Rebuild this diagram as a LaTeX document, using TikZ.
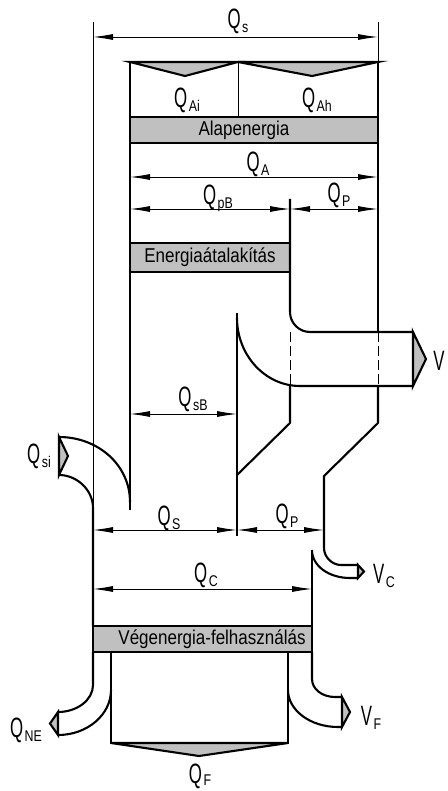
\documentclass[tikz,border=0pt]{standalone}
\usepackage{fontspec}
\setmainfont{Liberation Sans}[FakeStretch=0.85]
\newfontfamily\bigfam{Liberation Sans}[FakeStretch=0.6]
\newfontfamily\subfam{Liberation Sans}[FakeStretch=0.8]
\usetikzlibrary{arrows.meta}
\definecolor{boxgray}{RGB}{192,192,192}
\newcommand\bigf{\bigfam\fontsize{28}{28}\selectfont}
\newcommand\subf{\subfam\fontsize{15.5}{15.5}\selectfont}
\newcommand\qsub[2]{{\bigf #1}\kern1.5pt\raisebox{-4pt}{\subf #2}}
\begin{document}
\begin{tikzpicture}[x=1pt,y=-1pt,
  thickline/.style={line width=2.1pt, line join=miter},
  thinline/.style={line width=0.9pt},
  dashline/.style={line width=0.9pt, dash pattern=on 10pt off 4pt},
  dim/.style={line width=0.9pt, {Latex[length=20pt,width=6pt]}-{Latex[length=20pt,width=6pt]}},
  lbl/.style={inner sep=0pt, anchor=base},
  band/.style={fill=boxgray, draw=black, line width=2.1pt},
  bandtext/.style={inner sep=0pt, font=\fontsize{20}{20}\selectfont}
]
\useasboundingbox (0,0) rectangle (447,791);

% ---------- top: Q_s ----------
\draw[thinline] (93,22) -- (93,508);
\draw[thinline] (378,22) -- (378,62);
\draw[dim] (93,37) -- (378,37);
\node[lbl] (qs) at (238,29) {\qsub{Q}{s}};

% ---------- top box with Q_Ai, Q_Ah ----------
\draw[band] (130,62) -- (185,76) -- (238,62) -- cycle;
\draw[band] (238,62) -- (312,76) -- (378,62) -- cycle;
\draw[thickline] (130,62) -- (130,117);
\draw[thickline] (378,62) -- (378,117);
\draw[thinline] (238,62) -- (238,117);
\node[lbl] (qai) at (187,108) {\qsub{Q}{Ai}};
\node[lbl] (qah) at (317,108) {\qsub{Q}{Ah}};

% ---------- Alapenergia ----------
\draw[band] (130,117) rectangle (378,143);
\node[bandtext] (alap) at (244,130) {Alapenergia};

% ---------- Q_A, Q_pB, Q_P ----------
\draw[dim] (130,177) -- (378,177);
\node[lbl] (qa) at (258,172) {\qsub{Q}{A}};
\draw[dim] (130,209) -- (290,209);
\draw[dim] (290,209) -- (378,209);
\node[lbl] (qpb) at (218,205) {\qsub{Q}{pB}};
\node[lbl] (qp1) at (339,203) {\qsub{Q}{P}};

% ---------- Energiaatalakitas ----------
\draw[band] (130,243) rectangle (290,272);
\node[bandtext] (energ) at (210,257) {Energiaátalakítás};

% main verticals
\draw[thickline] (130,143) -- (130,510);
\draw[thickline] (378,143) -- (378,332);
\draw[dashline] (378,332) -- (378,386);
\draw[dashline] (290,332) -- (290,386);

% upper channel to V
\draw[thickline] (290,199) -- (290,312) .. controls (290,323) and (299,332) .. (310,332) -- (413,332);
% turbine / lower channel to V
\draw[thickline] (237,313) -- (237,536);
\draw[thickline] (237,318) .. controls (237,355) and (265,386) .. (300,386) -- (413,386);
\draw[band] (413,332) -- (426,359) -- (413,386) -- cycle;
\node[lbl] (v) at (439,370) {{\bigf V}};

% below the V channel
\draw[thickline] (290,386) -- (290,423) -- (237,475);
\draw[thickline] (378,386) -- (378,423) -- (324,476) -- (324,548)
  .. controls (324,557) and (332,565) .. (341,565) -- (358,565);
\draw[thickline] (312,550) .. controls (312,566) and (329,578) .. (350,578) -- (358,578);
\draw[band] (358,565) -- (364,571.5) -- (358,578) -- cycle;
\node[lbl] (vc) at (384,583) {\qsub{V}{C}};

% Q_sB
\draw[dim] (130,414) -- (237,414);
\node[lbl] (qsb) at (193,406) {\qsub{Q}{sB}};

% Q_si inflow
\draw[thickline] (59,437) .. controls (98,437) and (130,465) .. (130,502);
\draw[thickline] (59,475) .. controls (77,475) and (93,490) .. (93,508) -- (93,626);
\draw[band] (59,437) -- (68,456) -- (59,475) -- cycle;
\node[lbl] (qsi) at (39,463) {\qsub{Q}{si}};

% Q_S, Q_P lower
\draw[dim] (93,530) -- (237,530);
\draw[dim] (237,530) -- (324,530);
\node[lbl] (qs2) at (169,525) {\qsub{Q}{S}};
\node[lbl] (qp2) at (287,523) {\qsub{Q}{P}};

% Q_C
\draw[thickline] (312,550) -- (312,626);
\draw[dim] (93,589) -- (312,589);
\node[lbl] (qc) at (206,582) {\qsub{Q}{C}};

% ---------- Vegenergia ----------
\draw[band] (93,626) rectangle (312,652);
\node[bandtext] (veg) at (212,639) {Végenergia-felhasználás};

% Q_F box
\draw[thickline] (111,652) -- (111,743) -- (288,743) -- (288,652);
\draw[band] (111,743) -- (199,756) -- (288,743) -- cycle;
\node[lbl] (qf) at (200,783) {{\bigf Q}\kern1.5pt\raisebox{-2.5pt}{\subf F}};

% Q_NE outflow
\draw[thickline] (93,652) -- (93,685) .. controls (93,700) and (77,712) .. (58,712);
\draw[thickline] (111,690) .. controls (111,715) and (87,735) .. (58,735);
\draw[band] (58,712) -- (50,723.5) -- (58,735) -- cycle;
\node[lbl] (qne) at (26,737) {\qsub{Q}{NE}};

% V_F outflow
\draw[thickline] (312,652) -- (312,679) .. controls (312,689) and (322,697) .. (335,697) -- (342,697);
\draw[thickline] (288,690) .. controls (288,710) and (310,727) .. (338,727) -- (342,727);
\draw[band] (342,697) -- (350,712) -- (342,727) -- cycle;
\node[lbl] (vf) at (371,725) {\qsub{V}{F}};
\end{tikzpicture}
\end{document}
